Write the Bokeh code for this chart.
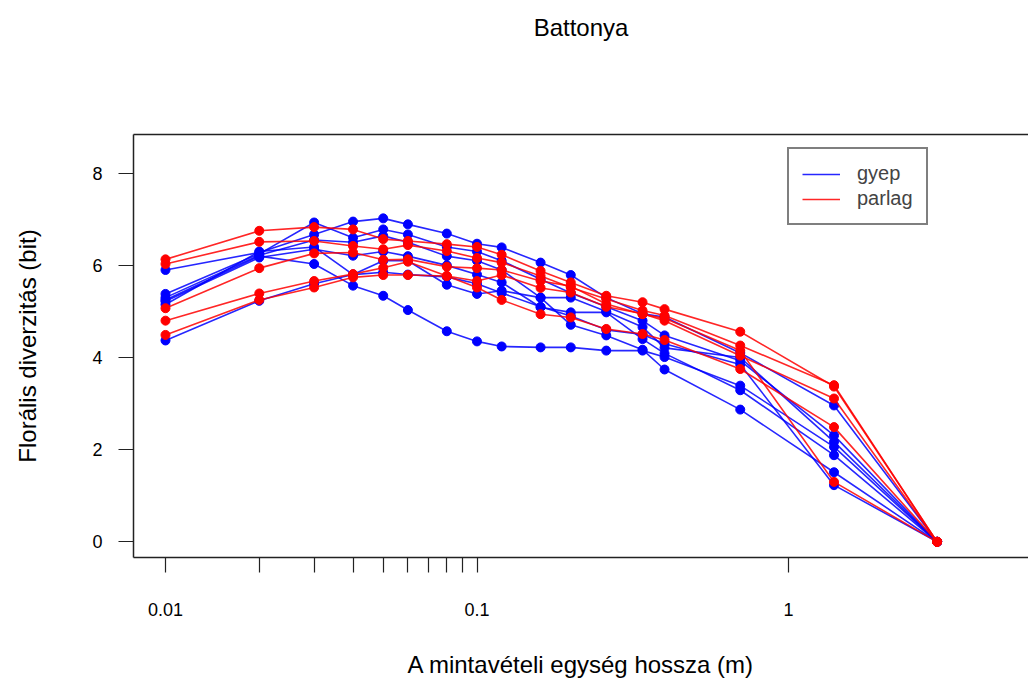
import math
from bokeh.plotting import figure
from bokeh.models import (ColumnDataSource, Range1d, FixedTicker, CustomJSTickFormatter,
                          LogAxis, Legend, LegendItem)
from bokeh.embed import file_html
from bokeh.resources import INLINE

# sampling unit length (m)
x_len = [0.01, 0.02, 0.03, 0.04, 0.05, 0.06, 0.08, 0.1, 0.12, 0.16, 0.2, 0.26, 0.34, 0.4, 0.7, 1.4, 3.0]

# gyep (grassland) series
gyep_1 = [5.90, 6.28, 6.67, 6.95, 7.02, 6.89, 6.69, 6.47, 6.39, 6.06, 5.79, 5.30, 4.95, 4.88, 4.10, 2.96, 0]
gyep_2 = [5.38, 6.25, 6.93, 6.60, 6.78, 6.67, 6.40, 6.30, 6.10, 5.70, 5.40, 5.10, 4.80, 4.48, 3.93, 2.31, 0]
gyep_3 = [5.30, 6.22, 6.55, 6.50, 6.64, 6.50, 6.20, 6.10, 5.90, 5.30, 5.30, 5.00, 4.66, 4.21, 4.00, 2.17, 0]
gyep_4 = [5.25, 6.20, 6.03, 5.56, 5.34, 5.03, 4.57, 4.35, 4.24, 4.22, 4.22, 4.15, 4.15, 4.01, 3.39, 2.06, 0]
gyep_5 = [5.22, 6.17, 6.35, 6.21, 6.30, 6.20, 6.00, 5.80, 5.63, 5.09, 4.98, 4.98, 4.40, 4.09, 3.29, 1.88, 0]
gyep_6 = [5.15, 6.30, 6.40, 5.80, 6.10, 6.10, 5.58, 5.38, 5.45, 5.30, 4.71, 4.48, 4.17, 3.74, 2.87, 1.51, 0]
gyep_7 = [4.37, 5.23, 5.60, 5.80, 5.85, 5.80, 5.75, 5.60, 5.40, 5.10, 4.90, 4.60, 4.50, 4.30, 3.85, 1.23, 0]

# parlag (fallow) series
parlag_1 = [6.13, 6.75, 6.83, 6.78, 6.57, 6.53, 6.46, 6.40, 6.23, 5.88, 5.63, 5.34, 5.20, 5.05, 4.56, 3.37, 0]
parlag_2 = [6.03, 6.51, 6.53, 6.42, 6.35, 6.44, 6.31, 6.16, 6.06, 5.77, 5.52, 5.27, 5.02, 4.91, 4.26, 3.40, 0]
parlag_3 = [5.07, 5.94, 6.26, 6.28, 6.12, 6.13, 5.97, 5.94, 5.90, 5.66, 5.55, 5.16, 4.94, 4.85, 4.15, 1.30, 0]
parlag_4 = [4.80, 5.39, 5.66, 5.81, 5.95, 6.08, 5.77, 5.66, 5.79, 5.51, 5.41, 5.10, 4.95, 4.80, 4.04, 3.11, 0]
parlag_5 = [4.49, 5.25, 5.52, 5.74, 5.79, 5.79, 5.77, 5.52, 5.25, 4.94, 4.87, 4.62, 4.51, 4.38, 3.75, 2.49, 0]

gyep_series = [gyep_1, gyep_2, gyep_3, gyep_4, gyep_5, gyep_6, gyep_7]
parlag_series = [parlag_1, parlag_2, parlag_3, parlag_4, parlag_5]

x_ticks = [0.01, 0.02, 0.03, 0.04, 0.05, 0.06, 0.07, 0.08, 0.09, 0.1, 1.0]
y_ticks = [0, 2, 4, 6, 8]

FONT = "Liberation Sans"
W, H = 1028, 684
FL, FT, FB = 133, 134, 557   # frame left, top, bottom (px)

px_per_dec = 311.5
x_lo = 10 ** (-2 - (165 - FL) / px_per_dec)
x_hi = 10 ** ((W - 788) / px_per_dec)

p = figure(width=W, height=H, x_axis_type="log", output_backend="svg", toolbar_location=None,
           x_range=Range1d(x_lo, x_hi), y_range=Range1d(-0.34, 8.84),
           min_border_left=FL, min_border_right=0, min_border_top=FT, min_border_bottom=H - FB)
p.outline_line_color = None
p.xgrid.visible = False
p.ygrid.visible = False
p.background_fill_color = "white"
p.border_fill_color = "white"

AX_COLOR = "#222222"

xa = p.xaxis[0]
xa.ticker = FixedTicker(ticks=x_ticks)
xa.formatter = CustomJSTickFormatter(code="""
const l = Math.log10(tick);
if (Math.abs(l - Math.round(l)) < 1e-6) { return tick.toString(); }
return "";
""")
xa.axis_line_color = AX_COLOR
xa.axis_line_width = 1.5
xa.major_tick_out = 15
xa.major_tick_in = 0
xa.minor_tick_out = 0
xa.minor_tick_in = 0
xa.major_tick_line_color = AX_COLOR
xa.major_tick_line_width = 1.2
xa.major_label_standoff = 30
xa.major_label_text_font = FONT
xa.major_label_text_font_size = "18px"
xa.major_label_text_color = "black"
xa.axis_label = "A mintavételi egység hossza (m)"
xa.axis_label_text_font = FONT
xa.axis_label_text_font_size = "24px"
xa.axis_label_text_font_style = "normal"
xa.axis_label_text_color = "black"
xa.axis_label_standoff = 32

ya = p.yaxis[0]
ya.ticker = FixedTicker(ticks=y_ticks)
ya.axis_line_color = AX_COLOR
ya.axis_line_width = 1.5
ya.major_tick_out = 15
ya.major_tick_in = 0
ya.minor_tick_out = 0
ya.minor_tick_in = 0
ya.major_tick_line_color = AX_COLOR
ya.major_tick_line_width = 1.2
ya.major_label_standoff = 16
ya.major_label_text_font = FONT
ya.major_label_text_font_size = "18px"
ya.major_label_text_color = "black"
ya.major_label_orientation = "horizontal"
ya.axis_label = "Florális diverzitás (bit)"
ya.axis_label_text_font = FONT
ya.axis_label_text_font_size = "24px"
ya.axis_label_text_font_style = "normal"
ya.axis_label_text_color = "black"
ya.axis_label_standoff = 48

# top border of the box, carrying the main title as its label
top = LogAxis(ticker=FixedTicker(ticks=[]), axis_line_color=AX_COLOR, axis_line_width=1.5,
              major_tick_out=0, major_tick_in=0, minor_tick_out=0, minor_tick_in=0,
              major_label_text_font_size="0px", major_label_standoff=0,
              axis_label="Battonya", axis_label_standoff=94, axis_label_text_font=FONT,
              axis_label_text_font_size="24px", axis_label_text_font_style="normal",
              axis_label_text_color="black")
p.add_layout(top, "above")

line_renderers = {}
for name, series, color in [("gyep", gyep_series, "#0000FF"), ("parlag", parlag_series, "#FF0000")]:
    for ys in series:
        src = ColumnDataSource(dict(x=x_len, y=ys))
        r = p.line("x", "y", source=src, line_color=color, line_width=1.6, line_alpha=0.85)
        p.scatter("x", "y", source=src, size=9, fill_color=color, line_color=color, marker="circle")
        line_renderers.setdefault(name, r)

legend = Legend(items=[LegendItem(label="gyep", renderers=[line_renderers["gyep"]]),
                       LegendItem(label="parlag", renderers=[line_renderers["parlag"]])],
                location=(787 - FL, FB - 225), padding=13, spacing=2, margin=0,
                glyph_width=38, glyph_height=20, label_height=20, label_standoff=17,
                label_text_font=FONT, label_text_font_size="20px",
                border_line_color="black", border_line_width=2,
                background_fill_color="white", background_fill_alpha=1.0)
p.add_layout(legend, "center")

open("out.html", "w").write(file_html(p, INLINE))
